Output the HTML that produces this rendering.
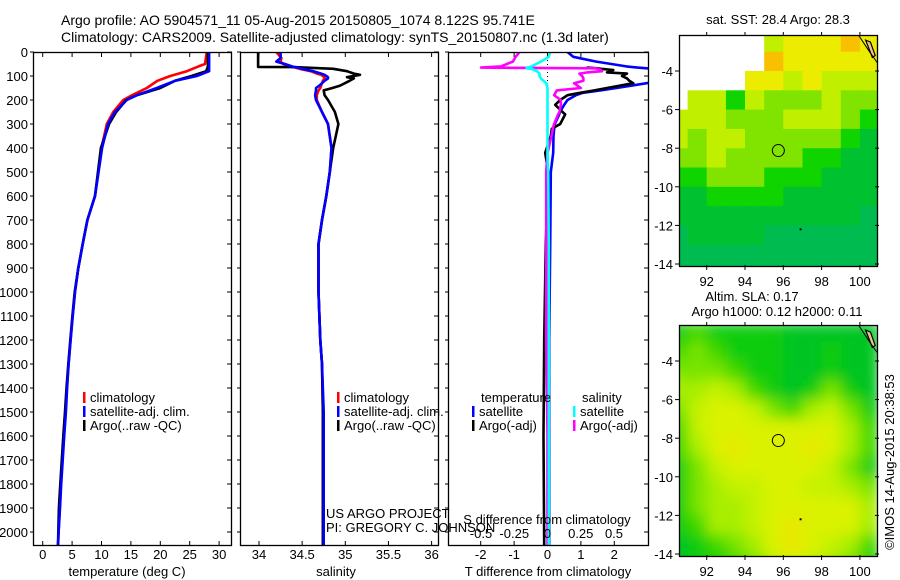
<!DOCTYPE html>
<html><head><meta charset="utf-8"><style>
html,body{margin:0;padding:0;background:#fff;width:900px;height:580px;overflow:hidden}
svg text{font-family:"Liberation Sans",sans-serif;font-size:13px;fill:#000}
</style></head><body>
<svg id="c" width="900" height="580" xmlns="http://www.w3.org/2000/svg">
<defs>
<clipPath id="cp1"><rect x="33" y="52" width="198" height="493"/></clipPath>
<clipPath id="cp2"><rect x="240" y="52" width="198" height="493"/></clipPath>
<clipPath id="cp3"><rect x="448" y="52" width="200" height="493"/></clipPath>
<clipPath id="cm1"><rect x="679" y="35" width="198" height="231"/></clipPath>
<clipPath id="cm2"><rect x="679" y="325" width="198" height="231"/></clipPath>
<filter id="blur" x="-5%" y="-5%" width="110%" height="110%"><feGaussianBlur stdDeviation="7"/></filter>
</defs>
<g id="content"></g>
</svg>
<script>
// ---- profile data ----
const depthT = [0,50,60,80,100,120,150,180,200,250,300,400,600,700,800,900,1000,1100,1200,1300,1400,1500,1600,1700,1800,1900,2000,2060];
const tempClim = [27.9,27.6,26.5,24.5,21.7,19.5,17.7,15.2,13.7,12,10.9,10,8.9,7.6,6.8,6.05,5.5,5.1,4.75,4.4,4.1,3.9,3.6,3.35,3.1,2.9,2.7,2.6];
const tempSat = [28.3,28.3,28.3,28.3,26.2,22.5,19.4,16,14.3,12.3,11.1,10.1,8.9,7.6,6.8,6.05,5.5,5.1,4.75,4.4,4.15,3.95,3.65,3.4,3.15,2.95,2.7,2.6];
const tempArgo = [28.1,28.1,28.1,27.8,25.3,22.5,20,16,14.2,12.5,11.3,9.9,8.9,7.6,6.8,6.05,5.45,5.05,4.7,4.35,4.05,3.8,3.5,3.25,3.0,2.75,2.65,2.6];
const depthS = [0,25,40,50,62,63,70,80,90,95,105,110,120,140,150,160,180,200,250,300,400,500,600,700,800,1000,1100,1200,1300,1500,2060];
const salClim = [34.2,34.26,34.25,34.28,34.38,34.4,34.47,34.6,34.67,34.72,34.76,34.76,34.74,34.72,34.71,34.69,34.67,34.67,34.73,34.8,34.84,34.82,34.78,34.73,34.69,34.69,34.7,34.71,34.73,34.74,34.74];
const salSat = [34.25,34.25,34.2,34.3,34.4,34.42,34.5,34.63,34.72,34.76,34.8,34.8,34.76,34.7,34.66,34.66,34.65,34.66,34.73,34.8,34.84,34.82,34.78,34.73,34.69,34.69,34.7,34.71,34.73,34.75,34.75];
const salArgo = [33.99,33.99,33.99,33.99,33.99,34.4,34.86,35.02,35.1,35.17,35.02,35.1,35.05,34.94,34.85,34.75,34.76,34.8,34.88,34.92,34.86,34.82,34.78,34.73,34.69,34.69,34.7,34.71,34.73,34.74,34.74];
const depthD = [0,20,40,60,65,68,70,75,80,85,90,100,110,120,130,150,160,170,180,200,220,250,260,300,320,350,420,500,800,1200,1600,2060];
const dTsat = [0.6,0.77,1.46,2.36,2.7,2.97,3.2,3.5,3.6,3.6,3.6,3.6,3.5,3.3,2.97,2.07,1.6,1.06,0.85,0.6,0.5,0.37,0.35,0.22,0.2,0.18,0.17,0.1,0.08,0.05,0.05,0.05];
const dTargo = [null,null,null,null,1.17,1.5,1.6,1.97,1.9,1.78,2.38,2.23,2.38,2.45,2.57,1.78,1.4,0.98,0.6,0.38,0.23,0.45,0.53,0.38,0.13,0.1,-0.07,0.02,-0.05,-0.1,-0.12,-0.1];
const dSsat = [0.02,0.01,-0.05,-0.12,-0.15,-0.157,-0.12,-0.1,-0.08,-0.07,-0.06,-0.06,-0.05,-0.03,-0.01,0,0,0,0,0,0,0,0,0,0,0,0,0.005,0.01,0.01,0.01,0.01];
const dSargo = [-0.21,-0.24,-0.26,-0.35,-0.5,0.36,0.38,0.4,0.41,0.3,0.24,0.26,0.27,0.27,0.2,0.25,0.07,0.06,0.05,0.1,0.1,0.09,0.08,0.05,0.04,0.03,0.0,-0.01,-0.01,-0.01,0,0];
const depthTicks = [0,100,200,300,400,500,600,700,800,900,1000,1100,1200,1300,1400,1500,1600,1700,1800,1900,2000];
const tTicks = [0,5,10,15,20,25,30];
const sTicks = [34,34.5,35,35.5,36];
const sTickLabels = ["34","34.5","35","35.5","36"];
const dTTicks = [-2,-1,0,1,2];
const dSTicks = [-0.5,-0.25,0,0.25,0.5];
const dSTickLabels = ["-0.5","-0.25","0","0.25","0.5"];
// ---- map data (1-degree cells, lon 90.5..101.5, lat -2..-15) ----
const mapLons = [90.5,91.5,92.5,93.5,94.5,95.5,96.5,97.5,98.5,99.5,100.5];
const mapLats = [-2,-3,-4,-5,-6,-7,-8,-9,-10,-11,-12,-13,-14];
const sstGrid = [
[null,null,null,null,null,7,8,8,8,9,8],
[null,null,null,null,null,9,8,8,8,8,8],
[null,null,null,null,8,8,7,8,7,7,7],
[null,7,7,5,7,6,6,6,7,6,6],
[7,7,7,6,6,6,7,7,7,6,5],
[7,6,7,7,6,6,6,6,6,5,4],
[6,6,7,6,6,6,6,5,5,4,4],
[5,5,6,6,6,5,5,5,4,4,4],
[4,4,5,5,5,5,4,4,4,4,4],
[4,4,4,4,4,4,4,4,4,4,3],
[3,4,4,4,4,3,3,3,3,3,3],
[3,3,3,3,3,3,3,3,3,3,3],
[3,3,3,3,3,3,3,3,3,3,3]];
const slaGrid = [
[3,4,3,3,3,3,2,2,2,2,2],
[4,5,4,3,3,3,2,2,3,2,2],
[5,5,5,4,3,3,2,2,3,2,2],
[6,6,7,6,4,3,2,3,5,3,2],
[5,7,8,8,7,5,4,6,7,5,3],
[4,7,8,8,8,8,8,8,8,6,4],
[4,6,8,9,8,8,8,9,8,6,4],
[3,5,7,8,8,8,8,8,7,5,3],
[3,5,6,7,7,8,8,7,7,6,5],
[3,5,6,6,7,8,8,8,8,8,6],
[3,4,6,6,7,8,9,8,8,8,6],
[2,3,4,5,6,8,9,8,7,6,4],
[2,3,3,4,5,7,8,7,6,5,3]];
const argoLon = 95.741, argoLat = -8.122;
const mapLonTicks = [92,94,96,98,100];
const mapLatTicks = [-4,-6,-8,-10,-12,-14];

const NS="http://www.w3.org/2000/svg";
const root=document.getElementById('content');
function mk(tag,attrs,parent){const e=document.createElementNS(NS,tag);for(const k in attrs)e.setAttribute(k,attrs[k]);(parent||root).appendChild(e);return e;}
function txt(x,y,s,anchor,parent,size){const t=mk('text',{x:x,y:y,'text-anchor':anchor||'start'},parent);if(size)t.style.fontSize=size+'px';t.textContent=s;return t;}

const yD = d => 52 + d*0.24;
const xT = v => 42.7 + v*5.88;
const xS = v => 259 + (v-34)*86.3;
const xDT = v => 547.5 + v*33.4;
const xDS = v => 547.5 + v*133;

let t;
t=txt(61,25,"Argo profile: AO 5904571_11 05-Aug-2015 20150805_1074 8.122S 95.741E",'start',null,14);

t=txt(61,42,"Climatology: CARS2009. Satellite-adjusted climatology: synTS_20150807.nc (1.3d later)",'start',null,14);


function frame(x,y,w,h,name){const r=mk('rect',{x:x+0.5,y:y+0.5,width:w,height:h,fill:'none',stroke:'#000','stroke-width':1.3});return r;}

function profile(vals,depths,xf,color,clip,name,w){
  let d='';let pen=false;
  for(let i=0;i<vals.length;i++){
    if(vals[i]===null){pen=false;continue;}
    d+=(pen?'L':'M')+xf(vals[i]).toFixed(1)+' '+yD(depths[i]).toFixed(1);pen=true;
  }
  const p=mk('path',{d:d,fill:'none',stroke:color,'stroke-width':w||2.6,'clip-path':'url(#'+clip+')','stroke-linejoin':'round'});
  
}

depthTicks.forEach(d=>{
  const l=txt(28,yD(d)+5,String(d),'end');
  
});
const panels=[[33,198],[240,198],[448,200]];
panels.forEach(([x0,w])=>{
  depthTicks.forEach(d=>{
    mk('line',{x1:x0-3,x2:x0+1,y1:yD(d),y2:yD(d),stroke:'#000','stroke-width':1});
    mk('line',{x1:x0+w-4,x2:x0+w+1,y1:yD(d),y2:yD(d),stroke:'#000','stroke-width':1});
  });
});
function xticks(vals,labels,xf,ly){
  vals.forEach((v,i)=>{
    const x=xf(v);
    mk('line',{x1:x,x2:x,y1:52,y2:57,stroke:'#000'});
    mk('line',{x1:x,x2:x,y1:541,y2:546,stroke:'#000'});
    const l=txt(x,ly,labels[i],'middle');
    
  });
}
xticks(tTicks,tTicks.map(String),xT,559);
profile(tempClim,depthT,xT,'#ff0000','cp1','temp-climatology-line');
profile(tempArgo,depthT,xT,'#000000','cp1','temp-argo-line');
profile(tempSat,depthT,xT,'#0000ff','cp1','temp-satellite-line');
frame(33,52,198,493,'temperature-panel');
t=txt(127,576,"temperature (deg C)",'middle');
xticks(sTicks,sTickLabels,xS,559);
profile(salClim,depthS,xS,'#ff0000','cp2','sal-climatology-line');
profile(salArgo,depthS,xS,'#000000','cp2','sal-argo-line');
profile(salSat,depthS,xS,'#0000ff','cp2','sal-satellite-line');
frame(240,52,198,493,'salinity-panel');
t=txt(336,576,"salinity",'middle');
xticks(dTTicks,dTTicks.map(String),xDT,559);
mk('line',{x1:547.5,x2:547.5,y1:52,y2:545,stroke:'#000','stroke-dasharray':'1,3'});
profile(dTsat,depthD,xDT,'#0000ff','cp3','dt-satellite-line');
profile(dTargo,depthD,xDT,'#000000','cp3','dt-argo-line');
profile(dSargo,depthD,xDS,'#ff00ff','cp3','ds-argo-line');
profile(dSsat,depthD,xDS,'#00ffff','cp3','ds-satellite-line');
frame(448,52,200,493,'difference-panel');
dSTicks.forEach((v,i)=>{const l=txt(xDS(v),538,dSTickLabels[i],'middle');});
t=txt(547,524,"S difference from climatology",'middle');
t=txt(548,576,"T difference from climatology",'middle');

function legend(x,y,color,label,name){
  const g=mk('g',{});
  if(color) mk('rect',{x:x,y:y-10,width:2.5,height:11,fill:color},g);
  txt(x+7,y,label,'start',g);
}
legend(83,402,'#ff0000','climatology','legend-climatology');
legend(83,416,'#0000ff','satellite-adj. clim.','legend-satellite');
legend(83,430,'#000','Argo(..raw -QC)','legend-argo');
legend(337,402,'#ff0000','climatology','legend-climatology-2');
legend(337,416,'#0000ff','satellite-adj. clim.','legend-satellite-2');
legend(337,430,'#000','Argo(..raw -QC)','legend-argo-2');
legend(474,402,null,'temperature','legend-temperature-head');
legend(472,416,'#0000ff','satellite','legend-t-satellite');
legend(472,430,'#000','Argo(-adj)','legend-t-argo');
legend(575,402,null,'salinity','legend-salinity-head');
legend(573,416,'#00ffff','satellite','legend-s-satellite');
legend(573,430,'#ff00ff','Argo(-adj)','legend-s-argo');
t=txt(326,518,"US ARGO PROJECT");
t=txt(326,532,"PI: GREGORY C. JOHNSON");

const mLon = v => 706.7 + (v-92)*19.15;
function colorSST(v){const c=['#0060ff','#0090e0','#00c8c8','#00bc50','#00c230','#10d400','#80e400','#c0f000','#ecec00','#f8c000','#f0a000'];return c[Math.round(v)];}
function colorSLA(v){const c=['#00b040','#00bc30','#00c420','#10cc10','#40d800','#78e400','#a8ee00','#c4f200','#daf200','#e8e800','#f0c800'];return c[Math.round(v)];}
function map(grid,top,latTopY,clip,colorFn,name,blur){
  const mLat = v => latTopY + (-4 - v)*19.3;
  const g=mk('g',{'clip-path':'url(#'+clip+')'});
  
  const inner=mk('g',blur?{filter:'url(#blur)'}:{},g);
  grid.forEach((row,r)=>row.forEach((v,c)=>{
    if(v===null)return;
    const x=mLon(mapLons[c]-0.5), y=mLat(mapLats[r]);
    const cell=mk('rect',{x:x.toFixed(1),y:y.toFixed(1),width:19.6,height:19.8,fill:colorFn(v)},inner);
    
    
  }));
  // coastline (thin island strip)
  mk('path',{d:`M${mLon(100.3)} ${mLat(-2.4)} L${mLon(100.55)} ${mLat(-2.5)} L${mLon(100.8)} ${mLat(-3.2)} L${mLon(100.65)} ${mLat(-3.3)} Z`,fill:'#f4c090',stroke:'#000','stroke-width':1.2},g);
  mk('path',{d:`M${mLon(99.9)} ${mLat(-2.1)} L${mLon(100.5)} ${mLat(-3)} L${mLon(101)} ${mLat(-3.7)}`,fill:'none',stroke:'#000','stroke-width':1},g);
  const circ=mk('circle',{cx:mLon(argoLon),cy:mLat(argoLat),r:6,fill:'none',stroke:'#000','stroke-width':1});
  
  mk('rect',{x:mLon(96.85),y:mLat(-12.15),width:2,height:2,fill:'#000'},g);
  frame(679,top,198,231,name+'-frame');
  mapLatTicks.forEach(v=>{
    mk('line',{x1:675,x2:680,y1:mLat(v),y2:mLat(v),stroke:'#000'});
    mk('line',{x1:875,x2:879,y1:mLat(v),y2:mLat(v),stroke:'#000'});
    const l=txt(673,mLat(v)+5,String(v),'end');
  });
  mapLonTicks.forEach(v=>{
    mk('line',{x1:mLon(v),x2:mLon(v),y1:top-3,y2:top+1,stroke:'#000'});
    mk('line',{x1:mLon(v),x2:mLon(v),y1:top+230,y2:top+235,stroke:'#000'});
    const l=txt(mLon(v),top+251,String(v),'middle');
  });
}
map(sstGrid,35,71,'cm1',colorSST,'sst-map',false);
map(slaGrid,325,361,'cm2',colorSLA,'sla-map',true);
t=txt(778,24,"sat. SST: 28.4 Argo: 28.3",'middle');
t=txt(752,301,"Altim. SLA: 0.17",'middle');
t=txt(777,316,"Argo h1000: 0.12 h2000: 0.11",'middle');
t=txt(0,0,"©IMOS 14-Aug-2015 20:38:53",'middle');
t.setAttribute('transform','translate(894,462) rotate(-90)');

</script>
</body></html>
